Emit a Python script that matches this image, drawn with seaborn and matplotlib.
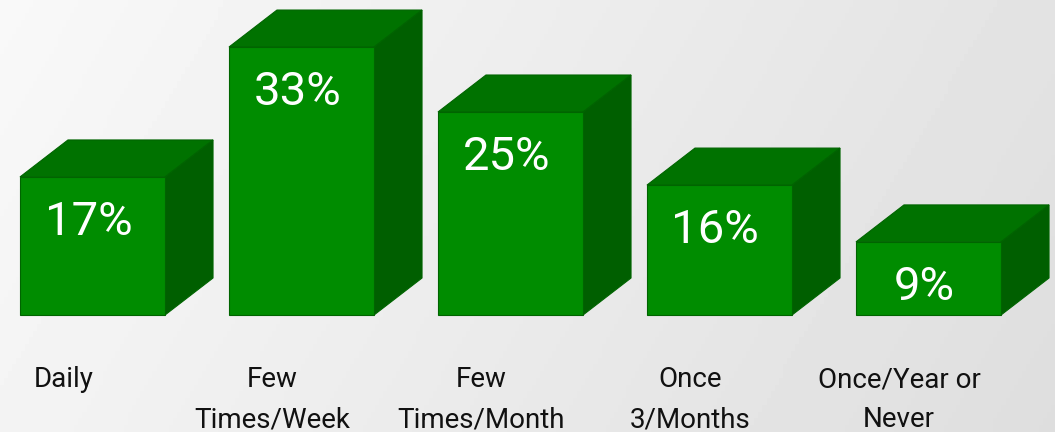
import numpy as np
import pandas as pd
import matplotlib
matplotlib.use("Agg")
import matplotlib.pyplot as plt
from matplotlib.patches import Polygon
import seaborn as sns

categories = ["Daily", "Few\nTimes/Week", "Few\nTimes/Month", "Once\n3/Months", "Once/Year or\nNever"]
values = [17, 33, 25, 16, 9]
labels = ["17%", "33%", "25%", "16%", "9%"]

df = pd.DataFrame({"freq": categories, "pct": values})

sns.set_style("white")
plt.rcParams["font.family"] = ["Roboto", "DejaVu Sans"]

fig = plt.figure(figsize=(10.55, 4.32), dpi=100)

# background gradient
bg = fig.add_axes([0, 0, 1, 1])
gx = np.linspace(0, 1, 256)
gy = np.linspace(0, 1, 64)
X, Y = np.meshgrid(gx, gy)
grad = 0.975 - 0.085 * X - 0.02 * Y
bg.imshow(grad, cmap="gray", vmin=0, vmax=1, aspect="auto", extent=[0, 1, 0, 1], origin="upper")
bg.axis("off")

ax = fig.add_axes([0, 0, 1, 1])
ax.patch.set_alpha(0)

front = "#008c00"
top_c = "#007200"
side_c = "#005f00"
edge = "#006400"

sns.barplot(data=df, x="freq", y="pct", color=front, saturation=1, width=0.694,
            edgecolor=edge, linewidth=0.8, ax=ax, zorder=3)

px_x = 209.0
px_y = 8.12
dx = 48 / px_x
dy = 37 / px_y

for bar, lab in zip(ax.patches, labels):
    x0 = bar.get_x()
    w = bar.get_width()
    h = bar.get_height()
    x1 = x0 + w
    top = Polygon([(x0, h), (x0 + dx, h + dy), (x1 + dx, h + dy), (x1, h)],
                  closed=True, facecolor=top_c, edgecolor=edge, linewidth=0.8, zorder=2)
    side = Polygon([(x1, 0), (x1 + dx, dy), (x1 + dx, h + dy), (x1, h)],
                   closed=True, facecolor=side_c, edgecolor=edge, linewidth=0.8, zorder=2)
    ax.add_patch(top)
    ax.add_patch(side)
    ax.text(x0 + w / 2 - 0.02, h - 5.5, lab, color="white", fontsize=34,
            ha="center", va="center", zorder=5)

for i, cat in enumerate(categories):
    ax.text(i - 0.14, -6.3, cat, ha="center", va="top", fontsize=20,
            color="#111111", linespacing=1.62)

ax.set_xlim(-92.5 / px_x, (1055 - 92.5) / px_x)
ax.set_ylim(-117 / px_y, (432 - 117) / px_y)
ax.axis("off")

fig.savefig("out.png", dpi=100)
